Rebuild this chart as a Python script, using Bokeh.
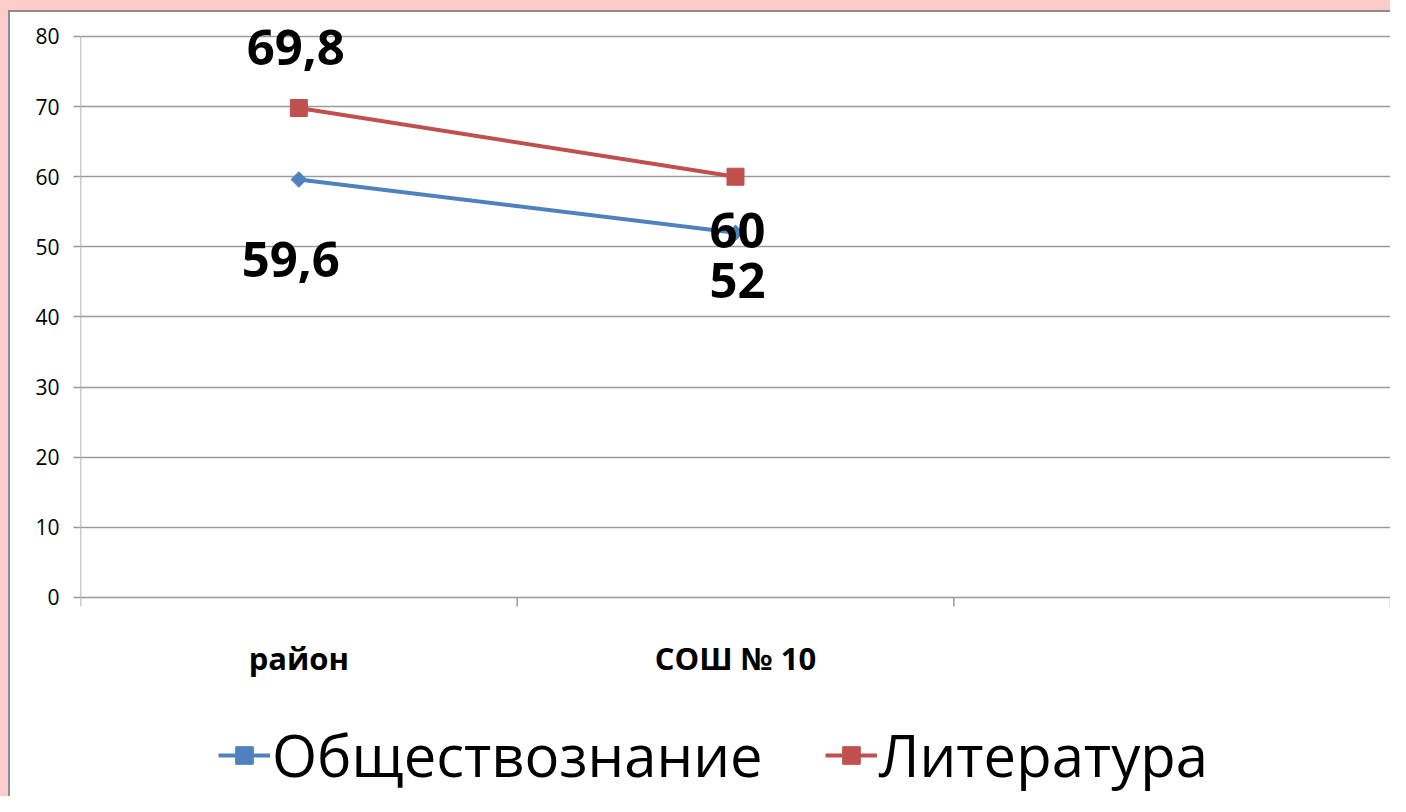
import math
from bokeh.plotting import figure
from bokeh.models import (Range1d, LinearAxis, FixedTicker, Legend, LegendItem)
from bokeh.core.properties import value
from bokeh.embed import file_html
from bokeh.resources import INLINE

# ---- data ----
categories = ["район", "СОШ № 10", ""]
series_names = ["Обществознание", "Литература"]
social_values = [59.6, 52]
literature_values = [69.8, 60]
y_ticks = [0, 10, 20, 30, 40, 50, 60, 70, 80]

# ---- styles / positions ----
BLUE = "#4F81BD"
RED = "#C0504D"
GRID = "#9a9a9a"
FONT = "Open Sans"
Y_LOW = -28.38          # frame continues below 0 to hold category labels and legend
Y_HIGH = 85.13          # and above 80 so the top data label is not clipped
social_label_dx = [-8, 2]
social_label_dy = [80, 48]
lit_label_dx = [-3, 2]
lit_label_dy = [-61, 54]
CAT_LABEL_DY = 61


def fmt(v):
    return f"{v:g}".replace(".", ",")


n_cat = len(categories)
centers = [i + 0.5 for i in range(n_cat)]
bounds = list(range(n_cat + 1))

p = figure(width=1390, height=796,
           x_range=Range1d(0, n_cat), y_range=Range1d(Y_LOW, Y_HIGH),
           output_backend="svg", toolbar_location=None,
           x_axis_location=None, y_axis_location=None,
           min_border_left=80, min_border_right=0, min_border_top=0, min_border_bottom=0)
p.outline_line_color = None
p.background_fill_color = None
p.border_fill_color = None
p.xgrid.visible = False
p.ygrid.ticker = FixedTicker(ticks=y_ticks)
p.ygrid.grid_line_color = GRID
p.ygrid.grid_line_width = 1.5

# y axis (labels + ticks; the axis line is drawn only over 0..80 below)
yaxis = LinearAxis(ticker=FixedTicker(ticks=y_ticks))
yaxis.axis_line_color = None
yaxis.major_tick_line_color = GRID
yaxis.major_tick_line_width = 1.5
yaxis.major_tick_out = 7
yaxis.major_tick_in = 0
yaxis.minor_tick_line_color = None
yaxis.major_label_text_font = FONT
yaxis.major_label_text_font_size = "21px"
yaxis.major_label_text_color = "black"
yaxis.major_label_standoff = 14
p.add_layout(yaxis, "left")

# vertical axis line and category boundary ticks
p.segment(x0=[bounds[0]], y0=[y_ticks[0]], x1=[bounds[0]], y1=[y_ticks[-1]],
          line_color=GRID, line_width=1.5)
p.ray(x=bounds, y=[y_ticks[0]] * len(bounds), length=9, length_units="screen",
      angle=-math.pi / 2, line_color=GRID, line_width=1.5)

# category labels
p.text(x=centers, y=[y_ticks[0]] * n_cat, text=categories, y_offset=CAT_LABEL_DY,
       text_font=value(FONT), text_font_style="bold", text_font_size="31px",
       text_align="center", text_baseline="middle", text_color="black")

# series
sx = centers[:len(social_values)]
lx = centers[:len(literature_values)]
l1 = p.line(x=sx, y=social_values, line_color=BLUE, line_width=4)
m1 = p.scatter(x=sx, y=social_values, marker="square", angle=math.pi / 4, size=11,
               fill_color=BLUE, line_color=BLUE)
l2 = p.line(x=lx, y=literature_values, line_color=RED, line_width=4)
m2 = p.scatter(x=lx, y=literature_values, marker="square", size=17, fill_color=RED, line_color=RED)

# data labels
p.text(x=sx, y=social_values, text=[fmt(v) for v in social_values],
       x_offset=social_label_dx, y_offset=social_label_dy,
       text_font=value(FONT), text_font_style="bold", text_font_size="49px",
       text_align="center", text_baseline="middle", text_color="black")
p.text(x=lx, y=literature_values, text=[fmt(v) for v in literature_values],
       x_offset=lit_label_dx, y_offset=lit_label_dy,
       text_font=value(FONT), text_font_style="bold", text_font_size="49px",
       text_align="center", text_baseline="middle", text_color="black")

legend = Legend(items=[LegendItem(label=series_names[0], renderers=[l1, m1]),
                       LegendItem(label=series_names[1], renderers=[l2, m2])],
                orientation="horizontal", location=(138, 2))
legend.label_text_font = FONT
legend.label_text_font_size = "58px"
legend.label_text_color = "black"
legend.glyph_width = 52
legend.glyph_height = 44
legend.label_standoff = 2
legend.spacing = 62
legend.border_line_color = None
legend.background_fill_alpha = 0
legend.padding = 0
legend.margin = 0
p.add_layout(legend, "center")

# pink slide background strip with grey edge at top and left
p.styles = {"background-color": "white",
            "box-shadow": "inset 8px 10px 0 0 #FFCCCC, inset 10px 12px 0 0 #8c8c8c"}

open("out.html", "w").write(file_html(p, INLINE))
